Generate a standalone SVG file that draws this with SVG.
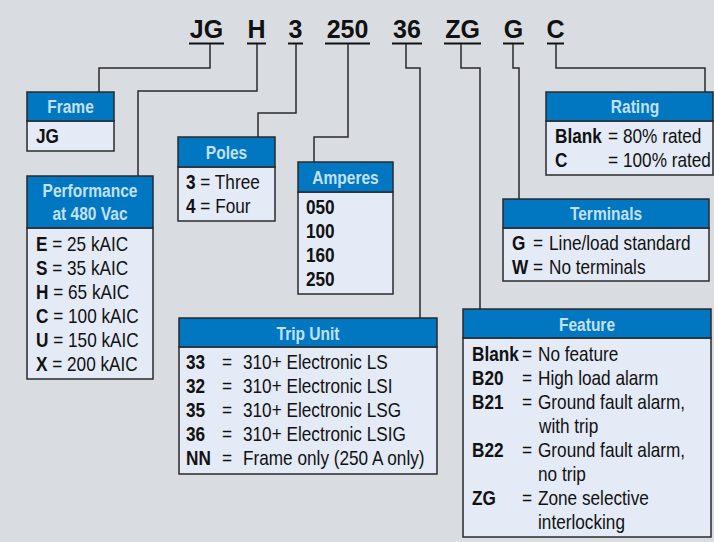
<svg xmlns="http://www.w3.org/2000/svg" width="714" height="542" viewBox="0 0 714 542">
<style>
.bg{fill:#d9dde2}
.hd{fill:#0077c0;stroke:#2a2a2a;stroke-width:1.5}
.bd{fill:#e4eaf6;stroke:#2a2a2a;stroke-width:1.5}
.ht{font-family:"Liberation Sans",Arial,sans-serif;font-weight:bold;font-size:18.5px;fill:#c4e0f5;text-anchor:middle}
.t{font-family:"Liberation Sans",Arial,sans-serif;font-size:20px;fill:#111}
.b{font-weight:bold}
.code{font-family:"Liberation Sans",Arial,sans-serif;font-weight:bold;font-size:25px;fill:#111;text-anchor:middle}
.ul{stroke:#111;stroke-width:2}
.cn{fill:none;stroke:#2a2a2a;stroke-width:1.5}
</style>
<rect class="bg" x="0" y="0" width="714" height="542"/>
<g id="codes">
<text class="code" x="206.5" y="38">JG</text>
<text class="code" x="256.5" y="38">H</text>
<text class="code" x="295.5" y="38">3</text>
<text class="code" x="347.5" y="38">250</text>
<text class="code" x="407" y="38">36</text>
<text class="code" x="462.5" y="38">ZG</text>
<text class="code" x="513.5" y="38">G</text>
<text class="code" x="555.5" y="38">C</text>
<line class="ul" x1="189" y1="43.5" x2="224" y2="43.5"/>
<line class="ul" x1="247" y1="43.5" x2="266" y2="43.5"/>
<line class="ul" x1="288" y1="43.5" x2="303" y2="43.5"/>
<line class="ul" x1="325" y1="43.5" x2="370" y2="43.5"/>
<line class="ul" x1="392" y1="43.5" x2="422" y2="43.5"/>
<line class="ul" x1="444" y1="43.5" x2="481" y2="43.5"/>
<line class="ul" x1="503" y1="43.5" x2="524" y2="43.5"/>
<line class="ul" x1="547" y1="43.5" x2="564" y2="43.5"/>
</g>
<g id="connectors">
<path class="cn" d="M210,44 V68 H99 V92"/>
<path class="cn" d="M257,44 V91 H138 V176"/>
<path class="cn" d="M296,44 V113 H258 V137"/>
<path class="cn" d="M348,44 V137 H314 V162"/>
<path class="cn" d="M406,44 V68 H420 V318"/>
<path class="cn" d="M461,44 V68 H480 V309"/>
<path class="cn" d="M513,44 V68 H519 V199"/>
<path class="cn" d="M556,44 V68 H705 V92"/>
</g>
<g id="frame">
<rect class="bd" x="27" y="121" width="87" height="30"/>
<rect class="hd" x="27" y="92" width="87" height="29"/>
<text class="ht" transform="translate(70.5,113) scale(.84,1)">Frame</text>
<text class="t b" transform="translate(36,143) scale(.86,1)">JG</text>
</g>
<g id="performance">
<rect class="bd" x="27" y="228" width="126" height="151"/>
<rect class="hd" x="27" y="176" width="126" height="52"/>
<text class="ht" transform="translate(90,197) scale(.84,1)">Performance</text>
<text class="ht" transform="translate(90,220) scale(.84,1)">at 480 Vac</text>
<text class="t" transform="translate(36,251) scale(.86,1)"><tspan class="b">E</tspan> = 25 kAIC</text>
<text class="t" transform="translate(36,275) scale(.86,1)"><tspan class="b">S</tspan> = 35 kAIC</text>
<text class="t" transform="translate(36,299) scale(.86,1)"><tspan class="b">H</tspan> = 65 kAIC</text>
<text class="t" transform="translate(36,323) scale(.86,1)"><tspan class="b">C</tspan> = 100 kAIC</text>
<text class="t" transform="translate(36,347) scale(.86,1)"><tspan class="b">U</tspan> = 150 kAIC</text>
<text class="t" transform="translate(36,371) scale(.86,1)"><tspan class="b">X</tspan> = 200 kAIC</text>
</g>
<g id="poles">
<rect class="bd" x="178" y="167" width="97" height="54"/>
<rect class="hd" x="178" y="137" width="97" height="30"/>
<text class="ht" transform="translate(226.5,159) scale(.84,1)">Poles</text>
<text class="t" transform="translate(186,189) scale(.86,1)"><tspan class="b">3</tspan> = Three</text>
<text class="t" transform="translate(186,213) scale(.86,1)"><tspan class="b">4</tspan> = Four</text>
</g>
<g id="amperes">
<rect class="bd" x="298" y="192" width="95" height="102"/>
<rect class="hd" x="298" y="162" width="95" height="30"/>
<text class="ht" transform="translate(345.5,184) scale(.84,1)">Amperes</text>
<text class="t b" transform="translate(306,214) scale(.86,1)">050</text>
<text class="t b" transform="translate(306,238) scale(.86,1)">100</text>
<text class="t b" transform="translate(306,262) scale(.86,1)">160</text>
<text class="t b" transform="translate(306,286) scale(.86,1)">250</text>
</g>
<g id="trip-unit">
<rect class="bd" x="179" y="347" width="258" height="127"/>
<rect class="hd" x="179" y="318" width="258" height="29"/>
<text class="ht" transform="translate(308,340) scale(.84,1)">Trip Unit</text>
<text class="t b" transform="translate(186,369) scale(.86,1)">33</text><text class="t" transform="translate(222,369) scale(.86,1)">=</text><text class="t" transform="translate(243,369) scale(.86,1)">310+ Electronic LS</text>
<text class="t b" transform="translate(186,393) scale(.86,1)">32</text><text class="t" transform="translate(222,393) scale(.86,1)">=</text><text class="t" transform="translate(243,393) scale(.86,1)">310+ Electronic LSI</text>
<text class="t b" transform="translate(186,417) scale(.86,1)">35</text><text class="t" transform="translate(222,417) scale(.86,1)">=</text><text class="t" transform="translate(243,417) scale(.86,1)">310+ Electronic LSG</text>
<text class="t b" transform="translate(186,441) scale(.86,1)">36</text><text class="t" transform="translate(222,441) scale(.86,1)">=</text><text class="t" transform="translate(243,441) scale(.86,1)">310+ Electronic LSIG</text>
<text class="t b" transform="translate(186,465) scale(.86,1)">NN</text><text class="t" transform="translate(222,465) scale(.86,1)">=</text><text class="t" transform="translate(243,465) scale(.86,1)">Frame only (250 A only)</text>
</g>
<g id="feature">
<rect class="bd" x="463" y="338" width="248" height="199"/>
<rect class="hd" x="463" y="309" width="248" height="29"/>
<text class="ht" transform="translate(587,331) scale(.84,1)">Feature</text>
<text class="t b" transform="translate(472,361) scale(.86,1)">Blank</text><text class="t" transform="translate(522,361) scale(.86,1)">=</text><text class="t" transform="translate(538,361) scale(.86,1)">No feature</text>
<text class="t b" transform="translate(472,385) scale(.86,1)">B20</text><text class="t" transform="translate(522,385) scale(.86,1)">=</text><text class="t" transform="translate(538,385) scale(.86,1)">High load alarm</text>
<text class="t b" transform="translate(472,409) scale(.86,1)">B21</text><text class="t" transform="translate(522,409) scale(.86,1)">=</text><text class="t" transform="translate(538,409) scale(.86,1)">Ground fault alarm,</text>
<text class="t" transform="translate(539,433) scale(.86,1)">with trip</text>
<text class="t b" transform="translate(472,457) scale(.86,1)">B22</text><text class="t" transform="translate(522,457) scale(.86,1)">=</text><text class="t" transform="translate(538,457) scale(.86,1)">Ground fault alarm,</text>
<text class="t" transform="translate(538,481) scale(.86,1)">no trip</text>
<text class="t b" transform="translate(472,505) scale(.86,1)">ZG</text><text class="t" transform="translate(522,505) scale(.86,1)">=</text><text class="t" transform="translate(538,505) scale(.86,1)">Zone selective</text>
<text class="t" transform="translate(538,529) scale(.86,1)">interlocking</text>
</g>
<g id="rating">
<rect class="bd" x="546" y="121" width="167" height="54"/>
<rect class="hd" x="546" y="92" width="167" height="29"/>
<text class="ht" transform="translate(635,113) scale(.84,1)">Rating</text>
<text class="t b" transform="translate(555,143) scale(.86,1)">Blank</text><text class="t" transform="translate(608,143) scale(.86,1)">=</text><text class="t" transform="translate(623,143) scale(.86,1)">80% rated</text>
<text class="t b" transform="translate(555,167) scale(.86,1)">C</text><text class="t" transform="translate(608,167) scale(.86,1)">=</text><text class="t" transform="translate(623,167) scale(.86,1)">100% rated</text>
</g>
<g id="terminals">
<rect class="bd" x="503" y="228" width="206" height="53"/>
<rect class="hd" x="503" y="199" width="206" height="29"/>
<text class="ht" transform="translate(606,220) scale(.84,1)">Terminals</text>
<text class="t b" transform="translate(512,250) scale(.86,1)">G</text><text class="t" transform="translate(533,250) scale(.86,1)">=</text><text class="t" transform="translate(549,250) scale(.86,1)">Line/load standard</text>
<text class="t b" transform="translate(512,274) scale(.86,1)">W</text><text class="t" transform="translate(533,274) scale(.86,1)">=</text><text class="t" transform="translate(549,274) scale(.86,1)">No terminals</text>
</g>
</svg>
